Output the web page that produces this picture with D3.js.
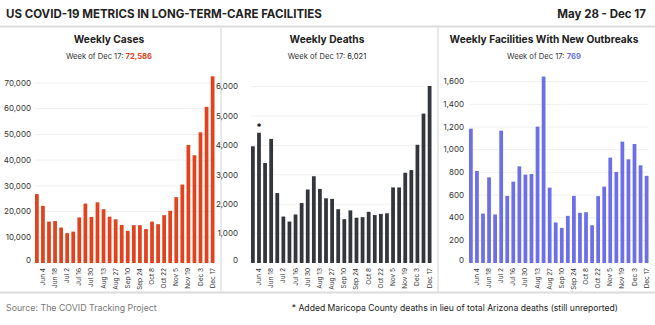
<!DOCTYPE html>
<html>
<head>
<meta charset="utf-8">
<script src="https://cdn.jsdelivr.net/npm/d3@7"></script>
<style>
  body { margin: 0; background: #fff; }
  svg { font-family: Inter, "Liberation Sans", sans-serif; }
</style>
</head>
<body>
<div id="chart"></div>
<script>
var weeks = ["May 28", "Jun 4", "Jun 11", "Jun 18", "Jun 25", "Jul 2", "Jul 9", "Jul 16", "Jul 23", "Jul 30",
  "Aug 6", "Aug 13", "Aug 20", "Aug 27", "Sep 3", "Sep 10", "Sep 17", "Sep 24", "Oct 1", "Oct 8",
  "Oct 15", "Oct 22", "Oct 29", "Nov 5", "Nov 12", "Nov 19", "Nov 26", "Dec 3", "Dec 10", "Dec 17"];

var cases = [26800, 22200, 16100, 16300, 13800, 11600, 12200, 17700, 23100, 17900,
  23600, 20900, 18000, 17000, 14800, 12500, 14700, 14700, 13200, 16100,
  15100, 18600, 20300, 25600, 30500, 45900, 41900, 50800, 60700, 72586];

var deaths = [3970, 4430, 3400, 4220, 2380, 1580, 1410, 1650, 2040, 2500,
  2950, 2520, 2200, 2180, 1830, 1490, 1790, 1540, 1560, 1740,
  1630, 1670, 1690, 2570, 2570, 3070, 3160, 4020, 5080, 6021];

var outbreaks = [1185, 812, 436, 756, 428, 1168, 592, 718, 853, 780,
  785, 1203, 1645, 665, 358, 310, 416, 592, 443, 448,
  333, 590, 674, 930, 803, 1071, 915, 1050, 862, 769];

var caseTicks = [0, 10000, 20000, 30000, 40000, 50000, 60000, 70000];
var deathTicks = [0, 1000, 2000, 3000, 4000, 5000, 6000];
var outbreakTicks = [0, 200, 400, 600, 800, 1000, 1200, 1400, 1600];

var W = 655, H = 325;
var baseY = 263, topY = 76;

var svg = d3.select("#chart").append("svg")
  .attr("width", W)
  .attr("height", H);

// header
svg.append("text")
  .attr("x", 6).attr("y", 18)
  .attr("font-size", "11.5px").attr("font-weight", 700).attr("fill", "#222")
  .text("US COVID-19 METRICS IN LONG-TERM-CARE FACILITIES");
svg.append("text")
  .attr("x", 646).attr("y", 18)
  .attr("text-anchor", "end")
  .attr("font-size", "11.5px").attr("font-weight", 700).attr("fill", "#222")
  .text("May 28 - Dec 17");

svg.append("line").attr("x1", 0).attr("x2", W).attr("y1", 26.5).attr("y2", 26.5)
  .style("stroke", "#dcdcdc").style("stroke-width", 2);
svg.append("line").attr("x1", 0).attr("x2", W).attr("y1", 292.5).attr("y2", 292.5)
  .style("stroke", "#dcdcdc").style("stroke-width", 2);
[221, 438].forEach(function(x) {
  svg.append("line").attr("x1", x).attr("x2", x).attr("y1", 27).attr("y2", 292)
    .style("stroke", "#e2e2e2").style("stroke-width", 1.5);
});

// footer
svg.append("text")
  .attr("x", 6).attr("y", 311)
  .attr("font-size", "8.8px").attr("fill", "#777")
  .text("Source: The COVID Tracking Project");
svg.append("text")
  .attr("x", 618).attr("y", 311)
  .attr("text-anchor", "end")
  .attr("font-size", "8.6px").attr("fill", "#222")
  .text("* Added Maricopa County deaths in lieu of total Arizona deaths (still unreported)");

var panels = [
  { title: "Weekly Cases", values: cases, ticks: caseTicks, max: 72700, color: "#e2431f", valueColor: "#e2431f",
    cx: 109, x0: 35, x1: 214.5, labelX: 31 },
  { title: "Weekly Deaths", values: deaths, ticks: deathTicks, max: 6360, color: "#33363d", valueColor: "#222",
    cx: 327, x0: 251, x1: 431.5, labelX: 238 },
  { title: "Weekly Facilities With New Outbreaks", values: outbreaks, ticks: outbreakTicks, max: 1650, color: "#6d6fe6", valueColor: "#6d6fe6",
    cx: 544, x0: 469, x1: 648.5, labelX: 464 }
];

var fmt = d3.format(",");

panels.forEach(function(p, pi) {
  var g = svg.append("g");

  g.append("text")
    .attr("x", p.cx).attr("y", 43)
    .attr("text-anchor", "middle")
    .attr("font-size", "10.2px").attr("font-weight", 700).attr("fill", "#222")
    .text(p.title);

  var sub = g.append("text")
    .attr("x", p.cx).attr("y", 59)
    .attr("text-anchor", "middle")
    .attr("font-size", "7.6px").attr("fill", "#333");
  sub.append("tspan").text("Week of " + weeks[weeks.length - 1] + ": ");
  sub.append("tspan")
    .attr("fill", p.valueColor)
    .attr("font-weight", pi == 1 ? 400 : 700)
    .text(fmt(p.values[p.values.length - 1]));

  var x = d3.scaleBand()
    .domain(d3.range(weeks.length))
    .range([p.x0, p.x1])
    .paddingInner(0.38)
    .paddingOuter(0);

  var y = d3.scaleLinear()
    .domain([0, p.max])
    .range([baseY, topY]);

  // gridlines
  g.selectAll(".grid")
    .data(p.ticks.slice(1))
    .enter()
    .append("line")
    .attr("x1", p.x0).attr("x2", p.x1)
    .attr("y1", function(d) { return y(d); })
    .attr("y2", function(d) { return y(d); })
    .style("stroke", "#f0f0f0").style("stroke-width", 1);

  g.selectAll(".ylab")
    .data(p.ticks)
    .enter()
    .append("text")
    .attr("x", p.labelX)
    .attr("y", function(d) { return y(d); })
    .attr("dy", function(d) { return d == 0 ? "0" : "0.35em"; })
    .attr("text-anchor", "end")
    .attr("font-size", "8px").attr("fill", "#333")
    .text(function(d) { return fmt(d); });

  g.selectAll(".bar")
    .data(p.values)
    .enter()
    .append("rect")
    .attr("x", function(d, i) { return x(i); })
    .attr("y", function(d) { return y(d); })
    .attr("width", x.bandwidth())
    .attr("height", function(d) { return baseY - y(d); })
    .attr("fill", p.color);

  // x labels, every other week starting Jun 4
  g.selectAll(".xlab")
    .data(weeks.map(function(w, i) { return i; }).filter(function(i) { return i % 2 == 1; }))
    .enter()
    .append("text")
    .attr("transform", function(i) {
      return "translate(" + (x(i) + x.bandwidth() / 2 + 2) + "," + (baseY + 5) + ") rotate(-90)";
    })
    .attr("text-anchor", "end")
    .attr("font-size", "6.5px").attr("fill", "#333")
    .text(function(i) { return weeks[i]; });

  if (pi == 1) {
    g.append("text")
      .attr("x", x(1) + x.bandwidth() / 2)
      .attr("y", y(p.values[1]) - 2)
      .attr("text-anchor", "middle")
      .attr("font-size", "10px").attr("font-weight", 700).attr("fill", "#111")
      .text("*");
  }
});
</script>
</body>
</html>
